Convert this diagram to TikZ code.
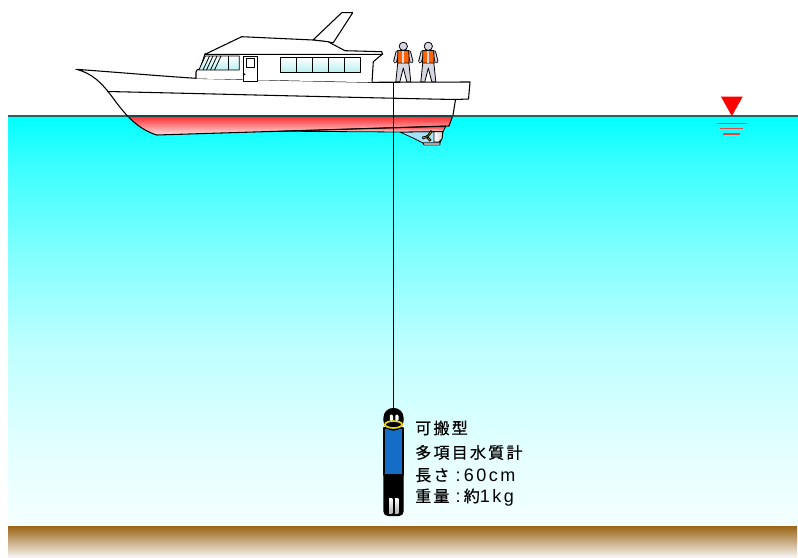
\documentclass[tikz,border=0pt]{standalone}
\usepackage{fontspec}
\newfontfamily\jp[LetterSpace=14,FakeBold=0.6]{Noto Sans CJK JP}
\newfontfamily\lat[LetterSpace=14]{Liberation Sans}
\newcommand\latin[1]{{\lat\fontsize{13.5pt}{14pt}\selectfont #1}}
\newcommand\sep{\hspace{4.5pt}\latin{:}\hspace{2.5pt}}
\definecolor{seabrown}{RGB}{155,100,20}
\definecolor{seapale}{RGB}{246,244,242}
\definecolor{surf}{RGB}{45,95,95}
\definecolor{hullred}{RGB}{255,40,45}
\definecolor{hullpale}{RGB}{255,235,235}
\definecolor{probeblue}{RGB}{20,110,200}
\definecolor{vest}{RGB}{255,100,0}
\definecolor{mangrey}{RGB}{215,215,228}
\definecolor{winlow}{RGB}{185,240,240}
\definecolor{marker}{RGB}{230,70,70}
\definecolor{propyellow}{RGB}{235,210,0}
\definecolor{wA}{RGB}{244,255,255}
\definecolor{wB}{RGB}{228,255,255}
\definecolor{wC}{RGB}{192,255,255}
\definecolor{wD}{RGB}{128,255,255}
\definecolor{wE}{RGB}{60,255,255}
\definecolor{wF}{RGB}{0,255,255}
% the path's box spans 25bp..75bp of the shading
\pgfdeclareverticalshading{seawater}{100bp}{color(0bp)=(wA); color(25bp)=(wA);
  color(34bp)=(wB); color(46.5bp)=(wC); color(58.5bp)=(wD); color(69bp)=(wE);
  color(75bp)=(wF); color(100bp)=(wF)}
\begin{document}
\begin{tikzpicture}[x=0.75pt,y=-0.75pt,
  outline/.style={draw=black,line width=0.8pt,line join=round},
  fine/.style={draw=black,line width=0.6pt,line join=round},
  pane/.style={fine,top color=white,bottom color=winlow},
  label/.style={anchor=base west,inner sep=0pt,font=\jp\fontsize{12pt}{14pt}\selectfont}]
\useasboundingbox (0,0) rectangle (798,557);
\fill[white] (0,0) rectangle (798,557);

% sea and seabed
\shade[shading=seawater] (8,116) rectangle (798,526);
\shade[top color=seabrown,bottom color=seapale] (8,526) rectangle (797,557);
\draw[surf,line width=1.3pt] (8,116) -- (798,116);

% water level mark
\fill[red] (721,96.7) -- (742.7,96.7) -- (731.8,116) -- cycle;
\draw[marker,line width=0.8pt] (716.7,123.3) -- (747.3,123.3)
  (720,128.7) -- (743.3,128.7) (723.3,134) -- (740,134);

% hull
\def\hullpath{(76,69.3) .. controls (120,72.5) and (160,76) .. (196,78.3)
  -- (372,82.3) -- (470,82) -- (468.5,99) -- (455.5,99.5) -- (453,115)
  -- (449,126) -- (156.7,135) .. controls (138,129) and (126,116) .. (113,98)
  .. controls (102,83) and (92,73) .. (76,69.3) -- cycle}
\def\keelpath{(280,131.2) -- (446,126.1) -- (443,131.5) -- (400,132) -- cycle}
\fill[white] \hullpath;
\begin{scope}
  \clip \hullpath;
  \shade[top color=hullred,bottom color=hullpale] (60,116) rectangle (480,136);
\end{scope}
% skeg, rudder and propeller
\draw[fine,fill=cyan!35!white] (400,132) -- (413,138) -- (423,143) -- (440,143)
  -- (442,138) -- (443,131.5) -- cycle;
\shade[top color=hullred,bottom color=hullpale,fine] \keelpath;
\shade[fine,left color=white,right color=gray!40] (434,131.8) -- (442.8,131.6)
  -- (442,139) -- (439,142) -- (434,142) -- cycle;
\draw[fine,fill=white] (423,143) -- (440,143) -- (440,145) -- (424,145) -- cycle;
\draw[fine,fill=propyellow] (427,136) -- (431,130.5) -- (432,132) -- (428,137)
  -- (431,140) -- (429.5,141) -- (426.5,137.5) -- (423,139) -- (422.5,137) -- cycle;
\draw[fine,fill=white] (427,136.8) circle (1pt);
\draw[outline] \hullpath;
\draw[surf!70!black,line width=0.9pt] (127.5,116) -- (453,116);
% sheer line
\draw[outline] (107,91.5) .. controls (220,94) and (350,97.5) .. (455.5,99.5);

% flybridge arm
\draw[outline,fill=white] (313,40) -- (341.7,12.7) -- (352.7,12.7) -- (333.3,42.7) -- cycle;
% cabin
\draw[outline,fill=white] (196,78.5) -- (196,72) .. controls (196,70) and (198,69) .. (200,69)
  -- (205,54) -- (382.5,54) -- (373.3,61.7) -- (372,82.3);
% roof
\draw[outline,fill=white] (205,54.3) -- (241.7,36.7) -- (313,40) -- (328,41.7) -- (345,50.7)
  -- (381.7,51.7) -- (382.7,54.3) -- cycle;
% front windows
\draw[pane] (205.3,56) -- (239.3,56) -- (239.3,70) -- (198.8,70) -- cycle;
\draw[fine] (228.3,56) -- (228.3,70);
\draw[fine] (209.5,56) -- (203,70) (213,56) -- (206.5,70) (217,56) -- (210.5,70)
  (221,56) -- (214.5,70);
% door
\draw[fine,fill=white] (243.3,56) rectangle (257.3,81.7);
\draw[fine,fill=white] (246.7,58.3) rectangle (254,67.3);
\fill (244.6,74.3) circle (0.7pt);
% side windows
\draw[pane] (280.7,57.3) rectangle (360,72.3);
\foreach \wx in {296.5,312.3,328,344} \draw[fine] (\wx,57.3) -- (\wx,72.3);

% crew on the aft deck
\foreach \cx in {403.3,428.3}{
  \begin{scope}[shift={(\cx,0)}]
    \draw[fine,fill=mangrey] (-5.5,62.5) -- (5.5,62.5) -- (7.5,81.8) -- (3.5,81.8)
      -- (0,68) -- (-3.5,81.8) -- (-7.5,81.8) -- cycle;
    \draw[black,line width=2.9pt,line cap=round] (-5.8,52) -- (-8.2,61.5)
      (5.8,52) -- (8.2,61.5);
    \draw[mangrey,line width=1.5pt,line cap=round] (-5.8,52) -- (-8.2,61.5)
      (5.8,52) -- (8.2,61.5);
    \draw[fine,fill=vest] (-5.5,50.5) -- (5.5,50.5) -- (5.8,63) -- (-5.8,63) -- cycle;
    \fill[mangrey] (-1,51) rectangle (1,62.6);
    \draw[fine,fill=mangrey] (0,46.3) circle (3.1pt);
  \end{scope}
}

% water quality sonde
\coordinate (reel) at (393.3,82.5);
\coordinate (sondetop) at (393.3,408.5);
\draw[outline,fill=black,rounded corners=3pt] (384,470) -- (384,515.5) -- (403,515.5) -- (403,470) -- cycle;
\shade[top color=white,bottom color=gray!60] (389,498) rectangle (392.3,513);
\shade[top color=white,bottom color=gray!60] (395,498) rectangle (398.3,513);
\draw[outline,fill=probeblue] (384,428) rectangle (403,475);
\draw[outline,fill=black,rounded corners=6.8pt] (384,430) -- (384,408.5) -- (403,408.5) -- (403,430) -- cycle;
\draw[propyellow,line width=1.3pt,fill=black] (393.5,424.5) ellipse [x radius=6.4pt,y radius=2.6pt];
\fill[white,rounded corners=1pt] (389.8,414.5) rectangle (393,421);
\fill[white,rounded corners=1pt] (395.3,414.5) rectangle (398.5,421);
\draw[line width=0.7pt] (reel) -- (sondetop);

% labels
\node[label] (l1) at (415,434) {可搬型};
\node[label] (l2) at (415,458.5) {多項目水質計};
\node[label] (l3) at (415,481) {長さ\sep\latin{60cm}};
\node[label] (l4) at (415,502) {重量\sep 約\latin{1kg}};
\end{tikzpicture}
\end{document}
